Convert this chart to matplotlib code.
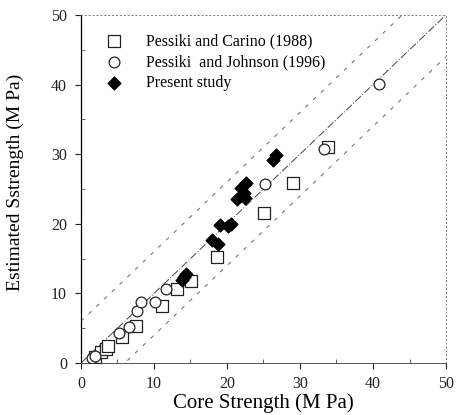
import numpy as np
import matplotlib.pyplot as plt

plt.rcParams['font.family'] = ['Liberation Serif', 'DejaVu Serif']

# Pessiki and Carino (1988)
carino_core = [1.9, 2.7, 3.4, 3.7, 5.6, 7.5, 11.1, 13.2, 15.1, 18.6, 25.1, 29.0, 33.8]
carino_est = [0.9, 1.6, 2.0, 2.4, 3.7, 5.3, 8.2, 10.6, 11.8, 15.2, 21.6, 25.9, 31.0]

# Pessiki and Johnson (1996)
johnson_core = [1.5, 1.9, 5.2, 6.6, 7.7, 8.2, 10.1, 11.6, 25.2, 33.3, 40.8]
johnson_est = [0.7, 1.0, 4.3, 5.2, 7.5, 8.8, 8.8, 10.6, 25.7, 30.7, 40.1]

# Present study
present_core = [13.8, 14.1, 14.4, 17.9, 18.8, 19.0, 20.1, 20.5, 21.4, 21.9,
                22.3, 22.6, 22.5, 26.3, 26.7]
present_est = [11.9, 12.4, 12.8, 17.7, 17.1, 19.8, 19.7, 20.0, 23.6, 25.1,
               24.4, 25.9, 23.7, 29.2, 29.9]

band = 6.0

fig = plt.figure(figsize=(4.57, 4.15), dpi=100)
ax = fig.add_axes([0.177, 0.125, 0.799, 0.839])

x = np.array([0, 50])
ax.plot(x, x, color='#444444', lw=0.7, dashes=(8, 2, 1, 2), zorder=1)
ax.plot(x, x + band, color='#666666', lw=0.7, dashes=(4, 7), zorder=1)
ax.plot(x, x - band, color='#666666', lw=0.7, dashes=(4, 7), zorder=1)

ax.scatter(carino_core, carino_est, marker='s', s=65, facecolors='white',
           edgecolors='#222222', linewidths=0.9, zorder=3,
           label='Pessiki and Carino (1988)')
ax.scatter(johnson_core, johnson_est, marker='o', s=60, facecolors='white',
           edgecolors='#222222', linewidths=0.9, zorder=3,
           label='Pessiki  and Johnson (1996)')
ax.scatter(present_core, present_est, marker='D', s=42, color='black',
           zorder=4, label='Present study')

ax.set_xlim(0, 50)
ax.set_ylim(0, 50)
ax.set_xticks(np.arange(0, 51, 10))
ax.set_yticks(np.arange(0, 51, 10))
ax.set_xticks(np.arange(5, 50, 10), minor=True)
ax.set_yticks(np.arange(5, 50, 10), minor=True)
ax.tick_params(which='major', direction='out', length=4, width=0.8,
               labelsize=11.5, colors='#222222')
ax.tick_params(axis='x', which='major', pad=5)
ax.tick_params(axis='y', which='major', pad=6)
ax.tick_params(which='minor', direction='in', length=3, width=0.6,
               colors='#444444')

for side in ['top', 'right']:
    ax.spines[side].set_linestyle((0, (1, 3)))
    ax.spines[side].set_color('#777777')
    ax.spines[side].set_linewidth(0.7)
ax.spines['left'].set_linewidth(0.9)
ax.spines['bottom'].set_color('#555555')
ax.spines['bottom'].set_linewidth(0.7)

ax.set_xlabel('Core Strength (M Pa)', fontsize=15, labelpad=1)
ax.set_ylabel('Estimated Sstrength (M Pa)', fontsize=14, labelpad=13)
ax.yaxis.set_label_coords(-0.155, 0.52)

ax.legend(loc='upper left', bbox_to_anchor=(0.03, 0.965), frameon=False,
          fontsize=11.5, handletextpad=1.0, labelspacing=0.3,
          scatterpoints=1, borderaxespad=0)

fig.savefig('out.png', dpi=100)
